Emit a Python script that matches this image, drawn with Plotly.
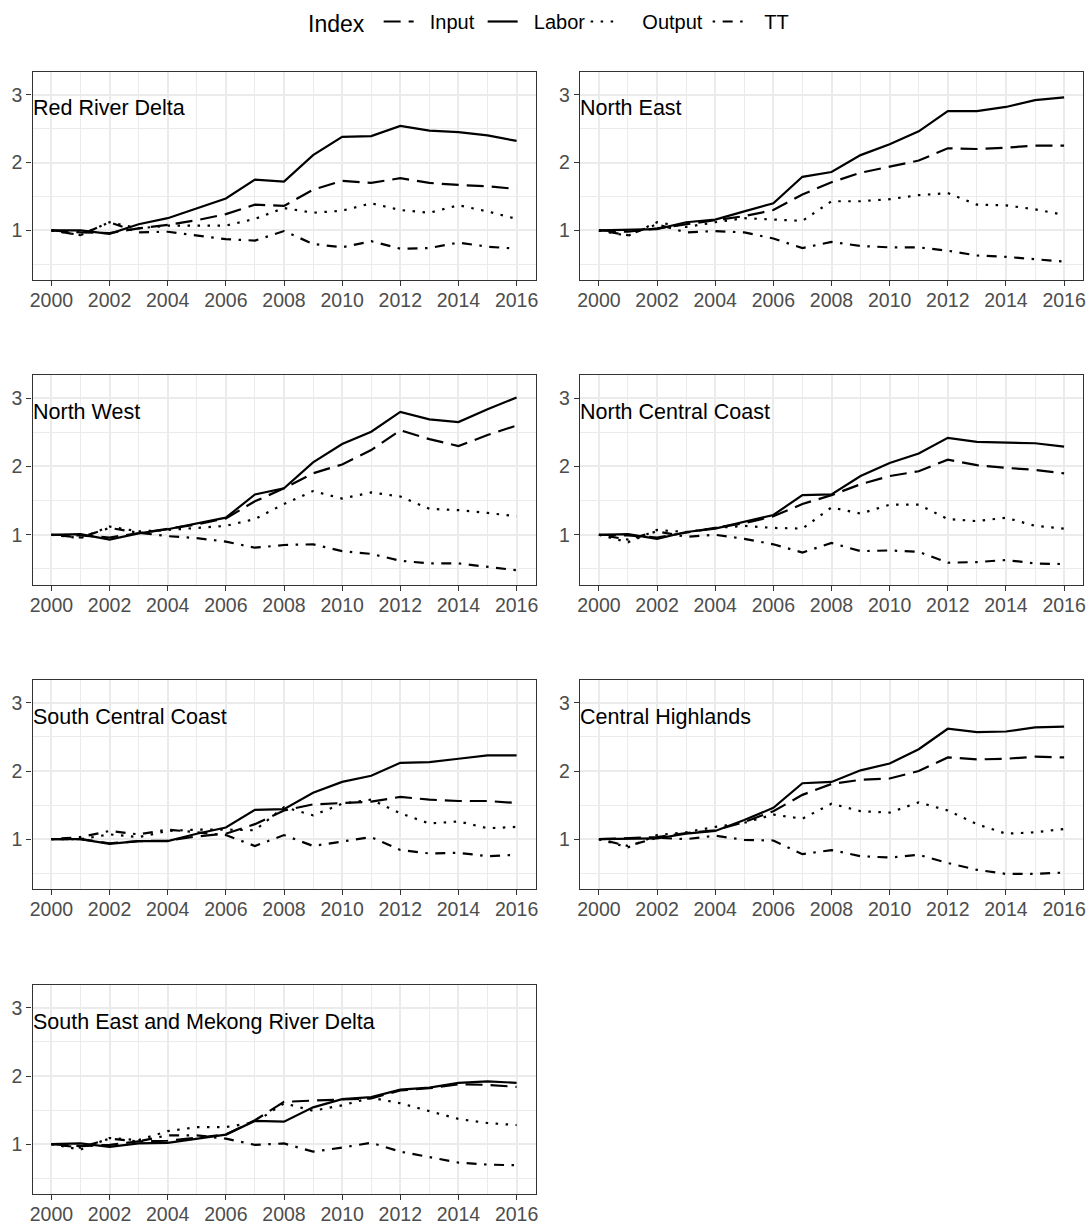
import plotly.graph_objects as go

# ---- data -------------------------------------------------------------
YEARS = list(range(2000, 2017))
X_TICKS = [2000, 2002, 2004, 2006, 2008, 2010, 2012, 2014, 2016]
Y_TICKS = [1, 2, 3]
INDEX_NAMES = ["Input", "Labor", "Output", "TT"]
REGIONS = [
    "Red River Delta",
    "North East",
    "North West",
    "North Central Coast",
    "South Central Coast",
    "Central Highlands",
    "South East and Mekong River Delta",
]

rrd_input = [1.00, 0.97, 0.96, 1.03, 1.08, 1.15, 1.24, 1.38, 1.36, 1.60, 1.73, 1.70, 1.77, 1.70, 1.67, 1.65, 1.61]
rrd_labor = [1.00, 1.00, 0.95, 1.09, 1.18, 1.33, 1.47, 1.75, 1.72, 2.11, 2.38, 2.39, 2.54, 2.47, 2.45, 2.40, 2.32]
rrd_output = [1.00, 0.93, 1.12, 1.03, 1.07, 1.07, 1.07, 1.17, 1.33, 1.26, 1.29, 1.40, 1.30, 1.26, 1.37, 1.28, 1.17]
rrd_tt = [1.00, 0.93, 1.12, 0.97, 0.98, 0.93, 0.87, 0.85, 0.99, 0.80, 0.75, 0.84, 0.73, 0.74, 0.82, 0.76, 0.73]

ne_input = [1.00, 0.98, 1.03, 1.09, 1.14, 1.21, 1.30, 1.53, 1.71, 1.85, 1.94, 2.03, 2.21, 2.20, 2.22, 2.25, 2.25]
ne_labor = [1.00, 1.01, 1.02, 1.12, 1.16, 1.28, 1.40, 1.79, 1.86, 2.11, 2.27, 2.46, 2.76, 2.76, 2.82, 2.92, 2.96]
ne_output = [1.00, 0.92, 1.12, 1.05, 1.12, 1.18, 1.16, 1.14, 1.43, 1.43, 1.46, 1.52, 1.55, 1.38, 1.37, 1.31, 1.23]
ne_tt = [1.00, 0.93, 1.09, 0.97, 0.99, 0.97, 0.88, 0.74, 0.83, 0.77, 0.75, 0.75, 0.70, 0.63, 0.61, 0.58, 0.54]

nw_input = [1.00, 0.99, 0.96, 1.02, 1.08, 1.15, 1.24, 1.49, 1.68, 1.90, 2.03, 2.24, 2.53, 2.40, 2.30, 2.46, 2.60]
nw_labor = [1.00, 1.01, 0.93, 1.02, 1.08, 1.17, 1.25, 1.59, 1.68, 2.06, 2.33, 2.51, 2.80, 2.69, 2.65, 2.84, 3.01]
nw_output = [1.00, 0.95, 1.12, 1.05, 1.07, 1.10, 1.13, 1.23, 1.45, 1.64, 1.53, 1.62, 1.56, 1.38, 1.36, 1.32, 1.27]
nw_tt = [1.00, 0.96, 1.10, 1.03, 0.98, 0.95, 0.90, 0.81, 0.85, 0.86, 0.76, 0.72, 0.62, 0.58, 0.58, 0.53, 0.48]

ncc_input = [1.00, 0.99, 0.96, 1.03, 1.09, 1.17, 1.27, 1.45, 1.58, 1.74, 1.86, 1.93, 2.10, 2.02, 1.98, 1.95, 1.90]
ncc_labor = [1.00, 1.01, 0.94, 1.04, 1.09, 1.19, 1.29, 1.58, 1.59, 1.86, 2.05, 2.19, 2.42, 2.36, 2.35, 2.34, 2.29]
ncc_output = [1.00, 0.89, 1.07, 1.04, 1.10, 1.13, 1.10, 1.09, 1.40, 1.31, 1.44, 1.44, 1.23, 1.20, 1.25, 1.13, 1.09]
ncc_tt = [1.00, 0.93, 1.05, 0.97, 1.00, 0.94, 0.86, 0.74, 0.88, 0.76, 0.77, 0.75, 0.59, 0.60, 0.63, 0.58, 0.57]

scc_input = [1.00, 1.00, 0.94, 0.97, 0.98, 1.04, 1.08, 1.22, 1.42, 1.51, 1.53, 1.55, 1.62, 1.58, 1.56, 1.56, 1.53]
scc_labor = [1.00, 1.00, 0.93, 0.97, 0.97, 1.08, 1.17, 1.43, 1.44, 1.68, 1.84, 1.93, 2.12, 2.13, 2.18, 2.23, 2.23]
scc_output = [1.00, 1.00, 1.07, 1.03, 1.12, 1.14, 1.14, 1.13, 1.47, 1.35, 1.52, 1.58, 1.38, 1.23, 1.26, 1.16, 1.18]
scc_tt = [1.00, 1.03, 1.12, 1.07, 1.14, 1.10, 1.06, 0.90, 1.06, 0.90, 0.97, 1.03, 0.84, 0.79, 0.80, 0.75, 0.77]

ch_input = [1.00, 1.02, 1.03, 1.09, 1.13, 1.25, 1.41, 1.65, 1.81, 1.87, 1.89, 2.00, 2.20, 2.17, 2.18, 2.21, 2.20]
ch_labor = [1.00, 1.01, 1.01, 1.08, 1.12, 1.28, 1.46, 1.82, 1.84, 2.01, 2.11, 2.32, 2.62, 2.57, 2.58, 2.64, 2.65]
ch_output = [1.00, 0.88, 1.06, 1.10, 1.18, 1.24, 1.36, 1.30, 1.52, 1.41, 1.39, 1.54, 1.42, 1.22, 1.08, 1.10, 1.15]
ch_tt = [1.00, 0.90, 1.02, 1.00, 1.05, 0.99, 0.98, 0.78, 0.84, 0.75, 0.73, 0.77, 0.65, 0.55, 0.49, 0.49, 0.51]

semrd_input = [1.00, 0.97, 0.99, 1.04, 1.05, 1.10, 1.14, 1.35, 1.62, 1.64, 1.65, 1.67, 1.79, 1.82, 1.88, 1.87, 1.84]
semrd_labor = [1.00, 1.01, 0.96, 1.01, 1.02, 1.08, 1.14, 1.34, 1.33, 1.54, 1.66, 1.69, 1.80, 1.83, 1.90, 1.92, 1.90]
semrd_output = [1.00, 0.92, 1.09, 1.06, 1.19, 1.25, 1.25, 1.32, 1.60, 1.49, 1.57, 1.68, 1.60, 1.49, 1.37, 1.31, 1.28]
semrd_tt = [1.00, 0.95, 1.08, 1.04, 1.13, 1.13, 1.08, 0.99, 1.01, 0.89, 0.95, 1.02, 0.89, 0.81, 0.73, 0.70, 0.69]

SERIES = {
    "Red River Delta": [rrd_input, rrd_labor, rrd_output, rrd_tt],
    "North East": [ne_input, ne_labor, ne_output, ne_tt],
    "North West": [nw_input, nw_labor, nw_output, nw_tt],
    "North Central Coast": [ncc_input, ncc_labor, ncc_output, ncc_tt],
    "South Central Coast": [scc_input, scc_labor, scc_output, scc_tt],
    "Central Highlands": [ch_input, ch_labor, ch_output, ch_tt],
    "South East and Mekong River Delta": [semrd_input, semrd_labor, semrd_output, semrd_tt],
}

# ---- styling ----------------------------------------------------------
FONT = "Liberation Sans, Arial, Helvetica, sans-serif"
W, H = 1089, 1225
NBSP = "\u00a0"
DASH = {
    "Input": "17px,8px",
    "Labor": "solid",
    "Output": "2.5px,7.5px",
    "TT": "2.5px,7.5px,10px,7.5px",
}
# legend label padding (leading spaces) and entry widths in px
LEGEND_PAD = {"Input": 2, "Labor": 2, "Output": 3, "TT": 3}
LEGEND_WIDTH = {"Input": 59, "Labor": 58, "Output": 77, "TT": None}
# panel frames in pixels: (left, right) per column, (top, bottom) per row
COLS_PX = [(32.5, 535.5), (580.0, 1083.0)]
ROWS_PX = [(71.7, 280.3), (375.0, 585.0), (679.7, 889.3), (984.7, 1194.3)]
X_RANGE = [1999.35, 2016.65]
Y_RANGE = [0.264, 3.34]
GRID = "#EBEBEB"
FRAME = "#333333"

fig = go.Figure()
layout = dict(
    width=W, height=H,
    margin=dict(l=0, r=0, t=0, b=0),
    paper_bgcolor="white", plot_bgcolor="white",
    font=dict(family=FONT, color="black"),
    showlegend=True,
    legend=dict(
        orientation="h", x=306 / W, xanchor="left", y=1 - 22 / H, yanchor="middle",
        title=dict(text="Index ", font=dict(size=23, family=FONT, color="black")),
        font=dict(size=20, family=FONT, color="black"),
        bgcolor="rgba(0,0,0,0)", traceorder="normal",
    ),
    annotations=[],
)

for i, region in enumerate(REGIONS):
    n = i + 1
    row, col = divmod(i, 2)
    xl, xr = COLS_PX[col]
    yt, yb = ROWS_PX[row]
    xa = "xaxis" if n == 1 else f"xaxis{n}"
    ya = "yaxis" if n == 1 else f"yaxis{n}"
    xref = "x" if n == 1 else f"x{n}"
    yref = "y" if n == 1 else f"y{n}"

    for name, values in zip(INDEX_NAMES, SERIES[region]):
        trace = go.Scatter(
            x=YEARS, y=values, mode="lines", name=NBSP * LEGEND_PAD[name] + name,
            legendgroup=name, showlegend=(i == 0),
            line=dict(color="black", width=2.2, dash=DASH[name]),
            xaxis=xref, yaxis=yref, hoverinfo="skip",
        )
        if LEGEND_WIDTH[name]:
            trace.legendwidth = LEGEND_WIDTH[name]
        fig.add_trace(trace)

    common = dict(
        automargin=False,
        showline=True, mirror=True, linecolor=FRAME, linewidth=1.3,
        ticks="outside", ticklen=5, tickwidth=1.3, tickcolor=FRAME,
        showgrid=True, gridcolor=GRID, gridwidth=1.6, zeroline=False,
        tickfont=dict(family=FONT, size=19.5, color="#4D4D4D"),
    )
    layout[xa] = dict(
        common, domain=[xl / W, xr / W], anchor=yref, range=X_RANGE,
        ticklabelstandoff=-3,
        tickmode="array", tickvals=X_TICKS, ticktext=[str(v) for v in X_TICKS],
        minor=dict(tickmode="array", tickvals=[y for y in YEARS if y % 2 == 1],
                   showgrid=True, gridcolor=GRID, gridwidth=0.9, ticks=""),
    )
    layout[ya] = dict(
        common, domain=[1 - yb / H, 1 - yt / H], anchor=xref, range=Y_RANGE,
        tickmode="array", tickvals=Y_TICKS, ticktext=[str(v) for v in Y_TICKS],
        minor=dict(tickmode="array", tickvals=[0.5, 1.5, 2.5],
                   showgrid=True, gridcolor=GRID, gridwidth=0.9, ticks=""),
    )
    layout["annotations"].append(dict(
        text=region, xref=f"{xref} domain", yref=yref, x=0, y=2.80,
        xanchor="left", yanchor="middle", xshift=-2, showarrow=False,
        font=dict(family=FONT, size=21.5, color="black"),
    ))

fig.update_layout(**layout)
fig.write_html("out.html")
